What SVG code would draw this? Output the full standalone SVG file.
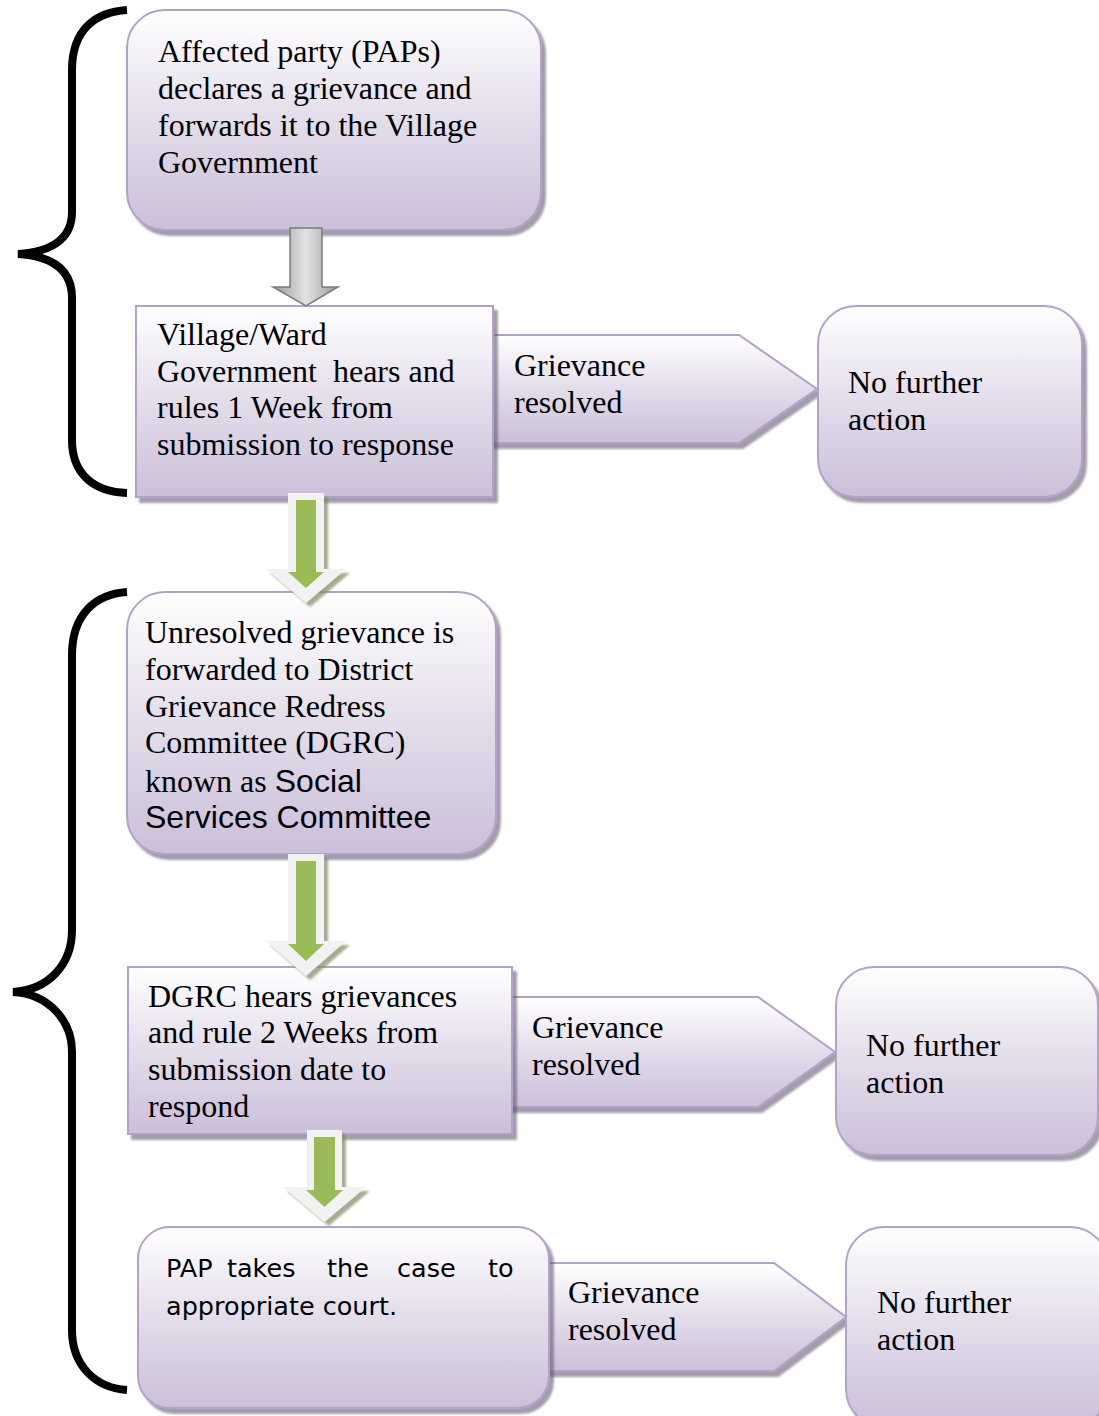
<svg xmlns="http://www.w3.org/2000/svg" width="1099" height="1416" viewBox="0 0 1099 1416">
<defs>
<linearGradient id="lav" x1="0" y1="0" x2="0" y2="1">
<stop offset="0" stop-color="#ffffff"/>
<stop offset="0.45" stop-color="#e6e0ed"/>
<stop offset="1" stop-color="#cbbfd9"/>
</linearGradient>
<linearGradient id="gray" x1="0" y1="0" x2="1" y2="0">
<stop offset="0" stop-color="#9a9a9a"/>
<stop offset="0.5" stop-color="#e2e2e2"/>
<stop offset="1" stop-color="#9a9a9a"/>
</linearGradient>
<filter id="sh" x="-10%" y="-10%" width="125%" height="125%">
<feDropShadow dx="4" dy="5" stdDeviation="1.2" flood-color="#5a4e66" flood-opacity="0.55"/>
</filter>
<filter id="gsh" x="-20%" y="-20%" width="150%" height="150%">
<feDropShadow dx="4" dy="4" stdDeviation="1" flood-color="#7d8a63" flood-opacity="0.7"/>
</filter>
</defs>
<style>
.box{fill:url(#lav);stroke:#b3a2c7;stroke-width:2;filter:url(#sh)}
.t{font-family:"Liberation Serif","Times New Roman",serif;font-size:32px;fill:#000}
.s{font-family:"Liberation Sans",Arial,sans-serif;font-size:32px}
.v{font-family:"DejaVu Sans",Verdana,sans-serif;font-size:25.5px;fill:#000}
.brace{fill:none;stroke:#000;stroke-width:8}
.gout{fill:#f2f2f2;filter:url(#gsh)}
.gin{fill:#9bbb59}
</style>

<g id="braces">
<path class="brace" d="M127,10 C95,12 72,30 72,70 L72,212 C72,240 50,252 18,254 C50,256 72,268 72,298 L72,440 C72,475 95,492 127,493"/>
<path class="brace" d="M127,592 C95,594 72,615 72,655 L72,930 C72,965 48,990 13,992 C48,994 72,1020 72,1052 L72,1330 C72,1365 95,1388 127,1390"/>
</g>

<g id="resolved1">
<path class="box" d="M480,335 L739,335 L817,389 L739,443 L480,443 Z"/>
<text class="t" x="514" y="376">Grievance</text>
<text class="t" x="514" y="413">resolved</text>
</g>
<g id="resolved2">
<path class="box" d="M500,997 L758,997 L835,1052 L758,1107 L500,1107 Z"/>
<text class="t" x="532" y="1038">Grievance</text>
<text class="t" x="532" y="1075">resolved</text>
</g>
<g id="resolved3">
<path class="box" d="M535,1263 L774,1263 L846,1317 L774,1371 L535,1371 Z"/>
<text class="t" x="568" y="1303">Grievance</text>
<text class="t" x="568" y="1340">resolved</text>
</g>

<g id="step1">
<rect class="box" x="127" y="10" width="414" height="220" rx="38"/>
<text class="t" x="158" y="62">Affected party (PAPs)</text>
<text class="t" x="158" y="99">declares a grievance and</text>
<text class="t" x="158" y="136">forwards it to the Village</text>
<text class="t" x="158" y="173">Government</text>
</g>

<g id="step2">
<rect class="box" x="136" y="306" width="357" height="191"/>
<text class="t" x="157" y="345">Village/Ward</text>
<text class="t" x="157" y="382" xml:space="preserve">Government  hears and</text>
<text class="t" x="157" y="418">rules 1 Week from</text>
<text class="t" x="157" y="455">submission to response</text>
</g>

<g id="nfa1">
<rect class="box" x="818" y="306" width="264" height="191" rx="38"/>
<text class="t" x="848" y="393">No further</text>
<text class="t" x="848" y="430">action</text>
</g>

<g id="step3">
<rect class="box" x="127" y="592" width="369" height="262" rx="38"/>
<text class="t" x="145" y="643">Unresolved grievance is</text>
<text class="t" x="145" y="680">forwarded to District</text>
<text class="t" x="145" y="717">Grievance Redress</text>
<text class="t" x="145" y="753">Committee (DGRC)</text>
<text class="t" x="145" y="792">known as <tspan class="s">Social</tspan></text>
<text class="t s" x="145" y="828">Services Committee</text>
</g>

<g id="step4">
<rect class="box" x="128" y="967" width="384" height="167"/>
<text class="t" x="148" y="1007">DGRC hears grievances</text>
<text class="t" x="148" y="1043">and rule 2 Weeks from</text>
<text class="t" x="148" y="1080">submission date to</text>
<text class="t" x="148" y="1117">respond</text>
</g>

<g id="nfa2">
<rect class="box" x="836" y="967" width="262" height="188" rx="38"/>
<text class="t" x="866" y="1056">No further</text>
<text class="t" x="866" y="1093">action</text>
</g>

<g id="step5">
<rect class="box" x="138" y="1227" width="411" height="181" rx="32"/>
<text class="v" y="1277"><tspan x="166">PAP</tspan><tspan x="227">takes</tspan><tspan x="327">the</tspan><tspan x="397">case</tspan><tspan x="488">to</tspan></text>
<text class="v" x="166" y="1315">appropriate court.</text>
</g>

<g id="nfa3">
<rect class="box" x="846" y="1227" width="262" height="200" rx="38"/>
<text class="t" x="877" y="1313">No further</text>
<text class="t" x="877" y="1350">action</text>
</g>

<g id="connectors">
<path d="M290,228 L322,228 L322,287 L338,287 L306,306 L273,287 L290,287 Z" fill="url(#gray)" stroke="#7a7a7a" stroke-width="1.5"/>
<path class="gout" d="M288,493 L324,493 L324,569 L346,569 L306,603 L266,569 L288,569 Z"/>
<path class="gin" d="M296,500 L316,500 L316,572 L324,572 L306,588 L288,572 L296,572 Z"/>
<path class="gout" d="M288,854 L324,854 L324,941 L346,941 L306,976 L266,941 L288,941 Z"/>
<path class="gin" d="M296,861 L316,861 L316,944 L324,944 L306,961 L288,944 L296,944 Z"/>
<path class="gout" d="M307,1130 L342,1130 L342,1187 L366,1187 L324.5,1222 L283,1187 L307,1187 Z"/>
<path class="gin" d="M314,1137 L335,1137 L335,1190 L343,1190 L324.5,1207 L306,1190 L314,1190 Z"/>
</g>
</svg>
